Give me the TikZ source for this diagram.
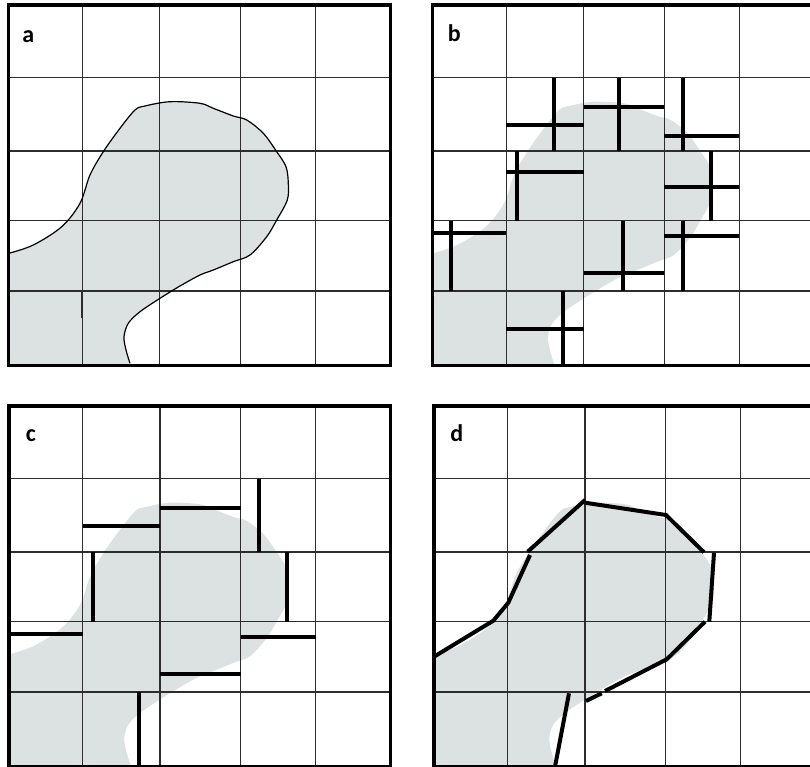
\documentclass[tikz,border=0pt]{standalone}
\usepackage{fontspec}
\setmainfont{Carlito}
\definecolor{blobfill}{RGB}{219,226,225}
\definecolor{gridc}{RGB}{45,45,45}
\begin{document}
\begin{tikzpicture}[x=0.75pt,y=-0.75pt,
  gridline/.style={draw=gridc,line width=0.9pt},
  frame/.style={draw=black,line width=2.3pt},
  seg/.style={draw=black,line width=3pt},
  mark bit/.style={draw=gridc,line width=1.3pt},
  lbl/.style={font=\fontsize{18}{20}\selectfont\bfseries,anchor=base,inner sep=0pt},
  blob/.pic={\path[pic actions] plot[smooth,tension=0.55] coordinates {
      (0,248.3) (24.6,240) (53,221.7) (71.3,198.3) (81.3,170) (94.6,146.7)
      (111.3,123.3) (126.3,105) (136.3,101) (161.3,96.7) (191.3,98.3)
      (204.6,103.3) (224.6,111) (238,115) (254.6,128.3) (268,146.7)
      (277.3,161.7) (279.6,178.3) (278.6,195) (268,215) (258,231.7)
      (241.3,250) (224.6,256.7) (204.6,265) (191.3,270) (171.3,281)
      (151.3,293.3) (131.3,306.7) (119.6,318.3) (115.3,331.7) (117.3,345)
      (121.3,358.3)} -- (122,360.5) -- (0,360.5) -- cycle;},
  blobline/.pic={\draw[black,line width=0.9pt] plot[smooth,tension=0.55] coordinates {
      (0,248.3) (24.6,240) (53,221.7) (71.3,198.3) (81.3,170) (94.6,146.7)
      (111.3,123.3) (126.3,105) (136.3,101) (161.3,96.7) (191.3,98.3)
      (204.6,103.3) (224.6,111) (238,115) (254.6,128.3) (268,146.7)
      (277.3,161.7) (279.6,178.3) (278.6,195) (268,215) (258,231.7)
      (241.3,250) (224.6,256.7) (204.6,265) (191.3,270) (171.3,281)
      (151.3,293.3) (131.3,306.7) (119.6,318.3) (115.3,331.7) (117.3,345)
      (121.3,358.3)};},
  gridfive/.pic={
      \foreach \gx in {73.5,151,231.5,306.5}{\draw[gridline] (\gx,0) -- (\gx,360.5);}
      \foreach \gy in {72.8,146,215.5,286}{\draw[gridline] (0,\gy) -- (381.5,\gy);}
      \draw[mark bit] (44.3,286) -- (58.6,286);},
  framefive/.pic={\draw[frame] (0,0) rectangle (381.5,360.5);}
]
\useasboundingbox (0,0) rectangle (810,767);
\clip (0,0) rectangle (810,767);

% ---------- panel a ----------
\begin{scope}[shift={(8.7,5)}]
  \pic[fill=blobfill] {blob};
  \pic {gridfive};
  \draw[mark bit] (73.5,286) -- (73.5,313);
  \pic {blobline};
  \pic {framefive};
  \node[lbl] (la) at (19.6,37.7) {a};
\end{scope}

% ---------- panel b ----------
\begin{scope}[shift={(432.7,5)}]
  \pic[fill=blobfill] {blob};
  \pic {gridfive};
  \pic {framefive};
  \draw[seg] (73.5,120) -- (151,120);   \draw[seg] (121,72.8) -- (121,146);
  \draw[seg] (151,101.7) -- (231.5,101.7); \draw[seg] (186.3,72.8) -- (186.3,146);
  \draw[seg] (250,72.8) -- (250,146);   \draw[seg] (231.5,130.7) -- (306.5,130.7);
  \draw[seg] (84,146) -- (84,215.5);    \draw[seg] (73.5,166.7) -- (151,166.7);
  \draw[seg] (278.3,146) -- (278.3,215.5); \draw[seg] (231.5,181.7) -- (306.5,181.7);
  \draw[seg] (18.3,215.5) -- (18.3,286); \draw[seg] (0,227.7) -- (73.5,227.7);
  \draw[seg] (190,215.5) -- (190,286);  \draw[seg] (151,268.3) -- (231.5,268.3);
  \draw[seg] (250,215.5) -- (250,286);  \draw[seg] (231.5,231) -- (306.5,231);
  \draw[seg] (130,286) -- (130,360.5);  \draw[seg] (73.5,324) -- (151,324);
  \node[lbl] (lb) at (21.5,36.7) {b};
\end{scope}

% ---------- panel c ----------
\begin{scope}[shift={(9,406)}]
  \pic[fill=blobfill] {blob};
  \pic {gridfive};
  \draw[mark bit] (73.5,286) -- (73.5,313);
  \pic {framefive};
  \draw[seg] (73.5,120) -- (151,120);
  \draw[seg] (151,101.7) -- (231.5,101.7);
  \draw[seg] (250,72.8) -- (250,146);
  \draw[seg] (84,146) -- (84,215.5);
  \draw[seg] (278.3,146) -- (278.3,215.5);
  \draw[seg] (0,227.7) -- (73.5,227.7);
  \draw[seg] (151,268.3) -- (231.5,268.3);
  \draw[seg] (231.5,231) -- (306.5,231);
  \draw[seg] (130,286) -- (130,360.5);
  \node[lbl] (lc) at (21.8,35.7) {c};
\end{scope}

% ---------- panel d ----------
\begin{scope}[shift={(434,406)}]
  \pic[fill=blobfill] {blob};
  \pic {gridfive};
  \draw[mark bit] (73.5,286) -- (73.5,313);
  \pic {framefive};
  \draw[seg] (0,250.7) -- (59.3,214.7) -- (74.3,196.7) -- (96,149);
  \draw[seg] (93.7,145.7) -- (151,94);
  \draw[seg] (151,96.7) -- (232,109) -- (270,146.3);
  \draw[seg] (280,146.7) -- (275.3,215.7);
  \draw[seg] (271,215.7) -- (232.7,253.3) -- (171,285);
  \draw[seg] (167.7,287.3) -- (152,295);
  \draw[seg] (135,287.3) -- (121,360.7);
  \node[lbl] (ld) at (22.7,35.7) {d};
\end{scope}
\end{tikzpicture}
\end{document}
